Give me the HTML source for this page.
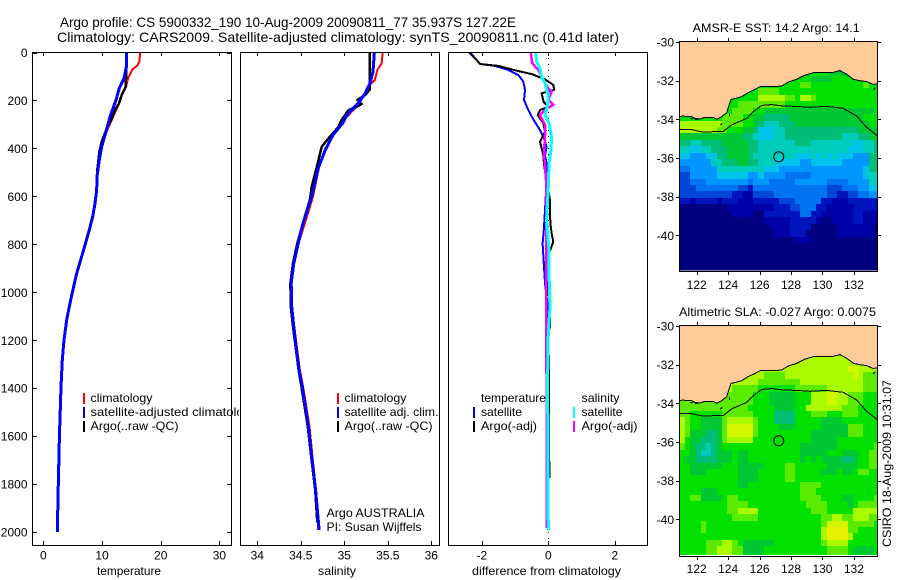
<!DOCTYPE html>
<html>
<head>
<meta charset="utf-8">
<title>Argo profile</title>
<style>
html,body{margin:0;padding:0;background:#fff;}
svg{display:block;font-family:"Liberation Sans",sans-serif;fill:#000;}
text{font-size:12px;}
.frame{fill:none;stroke:#000;stroke-width:1;shape-rendering:crispEdges;}
.crisp{shape-rendering:crispEdges;}
</style>
</head>
<body>
<svg id="figure" xmlns="http://www.w3.org/2000/svg" width="900" height="580" viewBox="0 0 900 580">
  <defs>
    <clipPath id="clip-legend"><rect x="32" y="52" width="207" height="494"/></clipPath>
    <clipPath id="clip-map1"><rect x="679" y="41" width="198" height="229.5"/></clipPath>
    <clipPath id="clip-map2"><rect x="679" y="325" width="198" height="230"/></clipPath>
  </defs>
  <text x="60" y="27" textLength="456" lengthAdjust="spacingAndGlyphs" style="font-size:14px">Argo profile: CS 5900332_190 10-Aug-2009 20090811_77 35.937S 127.22E</text>
  <text x="57" y="42" textLength="562" lengthAdjust="spacingAndGlyphs" style="font-size:14px">Climatology: CARS2009. Satellite-adjusted climatology: synTS_20090811.nc (0.41d later)</text>

  <g id="temp-panel"></g>
  <g id="sal-panel"></g>
  <g id="diff-panel"></g>

  <rect class="frame" x="32.5" y="52.5" width="199" height="493"/>
  <rect class="frame" x="240.5" y="52.5" width="199" height="493"/>
  <rect class="frame" x="448.5" y="52.5" width="199" height="493"/>

  <text x="97" y="575" textLength="64" lengthAdjust="spacingAndGlyphs">temperature</text>
  <text x="318" y="575" textLength="38" lengthAdjust="spacingAndGlyphs">salinity</text>
  <text x="472" y="575" textLength="149" lengthAdjust="spacingAndGlyphs">difference from climatology</text>

  <g clip-path="url(#clip-legend)">
    <rect class="crisp" x="83" y="393" width="2" height="11" fill="#f00"/>
    <rect class="crisp" x="83" y="407" width="2" height="11" fill="#00f"/>
    <rect class="crisp" x="83" y="421" width="2" height="11" fill="#000"/>
    <text x="90.5" y="402" textLength="62" lengthAdjust="spacingAndGlyphs">climatology</text>
    <text x="90.5" y="416" textLength="167" lengthAdjust="spacingAndGlyphs">satellite-adjusted climatology</text>
    <text x="90.5" y="430" textLength="88" lengthAdjust="spacingAndGlyphs">Argo(..raw -QC)</text>
  </g>

  <g>
    <rect class="crisp" x="337" y="393" width="2" height="11" fill="#f00"/>
    <rect class="crisp" x="337" y="407" width="2" height="11" fill="#00f"/>
    <rect class="crisp" x="337" y="421" width="2" height="11" fill="#000"/>
    <text x="344.5" y="402" textLength="62" lengthAdjust="spacingAndGlyphs">climatology</text>
    <text x="344.5" y="416" textLength="94" lengthAdjust="spacingAndGlyphs">satellite adj. clim.</text>
    <text x="344.5" y="430" textLength="88" lengthAdjust="spacingAndGlyphs">Argo(..raw -QC)</text>
    <text x="326.5" y="517" textLength="98" lengthAdjust="spacingAndGlyphs">Argo AUSTRALIA</text>
    <text x="326.5" y="531" textLength="95" lengthAdjust="spacingAndGlyphs">PI: Susan Wijffels</text>
  </g>

  <g>
    <text x="481" y="402" textLength="65" lengthAdjust="spacingAndGlyphs">temperature</text>
    <text x="581.5" y="402" textLength="38" lengthAdjust="spacingAndGlyphs">salinity</text>
    <rect class="crisp" x="473" y="407" width="2" height="11" fill="#00f"/>
    <rect class="crisp" x="473" y="421" width="2" height="11" fill="#000"/>
    <rect class="crisp" x="573" y="407" width="2" height="11" fill="#0ff"/>
    <rect class="crisp" x="573" y="421" width="2" height="11" fill="#f0f"/>
    <text x="481" y="416" textLength="41" lengthAdjust="spacingAndGlyphs">satellite</text>
    <text x="481" y="430" textLength="56" lengthAdjust="spacingAndGlyphs">Argo(-adj)</text>
    <text x="581.5" y="416" textLength="41" lengthAdjust="spacingAndGlyphs">satellite</text>
    <text x="581.5" y="430" textLength="56" lengthAdjust="spacingAndGlyphs">Argo(-adj)</text>
  </g>

  <text x="692.7" y="32" textLength="167" lengthAdjust="spacingAndGlyphs">AMSR-E SST: 14.2 Argo: 14.1</text>
  <g id="sst-map"></g>
  <rect class="frame" x="679.5" y="41.5" width="198" height="230"/>

  <text x="679" y="316" textLength="197" lengthAdjust="spacingAndGlyphs">Altimetric SLA: -0.027 Argo: 0.0075</text>
  <g id="sla-map"></g>
  <rect class="frame" x="679.5" y="325.5" width="198" height="231"/>

  <text transform="translate(891,547) rotate(-90)" textLength="167" lengthAdjust="spacingAndGlyphs">CSIRO 18-Aug-2009 10:31:07</text>
</svg>
<script>
// ---------- profile data ----------
const depthTicks = [0,200,400,600,800,1000,1200,1400,1600,1800,2000];
const tempTicks = [0,10,20,30];
const salTicks = [34,34.5,35,35.5,36];
const diffTicks = [-2,0,2];

const lowerDepth = [573,629,685,740,803,865,921,983,1046,1115,1199,1282,1393,1500,1600,1700,1800,1900,2000];
const lowerTemp = [9.1,8.81,8.41,7.84,7.1,6.37,5.69,5.11,4.55,3.99,3.53,3.24,3.02,2.88,2.75,2.65,2.56,2.47,2.39];

const tempClimDepth = [0,38,55,70,103,143,170,219,268,330,379,448,518];
const tempClimValue = [16.53,16.36,16.0,15.2,14.5,14.1,13.5,12.8,11.9,10.8,9.95,9.6,9.2];
const tempSatDepth = [0,59,108,149,198,268,330,393,448,518];
const tempSatValue = [14.15,14.15,13.75,12.95,12.38,11.36,10.68,9.95,9.54,9.15];
const tempArgoDepth = [0,100,143,177,212,240,274,316,372,414,490];
const tempArgoValue = [14.1,14.1,14.03,13.35,12.9,12.2,11.65,10.8,9.95,9.55,9.2];

const salClimDepth = [2,45,73,115,135,170,226,261,295,358,407,462,601,685,796,879,962,1060,1143,1227,1324,1400,1560,1686,1824,1991];
const salClimValue = [35.44,35.43,35.38,35.35,35.295,35.24,35.14,35.05,34.95,34.855,34.78,34.72,34.64,34.57,34.475,34.425,34.395,34.4,34.425,34.455,34.49,34.53,34.6,34.635,34.675,34.7];
const salSatDepth = [2,80,128,170,212,233,261,295,344,407,483,601,657,719,796,879,962,1060,1143,1227,1324,1400,1560,1686,1824,1991];
const salSatValue = [35.345,35.33,35.295,35.24,35.16,35.1,35.03,34.98,34.87,34.78,34.7,34.625,34.575,34.52,34.47,34.42,34.39,34.395,34.42,34.445,34.48,34.52,34.586,34.625,34.67,34.71];
const salArgoDepth = [2,87,156,177,198,215,230,240,281,312,351,393,469,560,615,691,796,879,962,1060,1143,1227,1324,1400,1560,1686,1824,1960];
const salArgoValue = [35.295,35.29,35.29,35.24,35.15,35.2,35.12,35.05,34.97,34.93,34.835,34.74,34.69,34.625,34.605,34.54,34.46,34.41,34.38,34.385,34.41,34.44,34.475,34.51,34.58,34.62,34.665,34.69];

const diffTempSatDepth = [0,24,48,56,73,94,122,156,198,240,279,323,358,393,430,480,560,657,753,795,894,962,1050,1200,1500,1780];
const diffTempSatValue = [-2.385,-2.2,-2.05,-1.6,-1.2,-0.9,-0.75,-0.7,-0.73,-0.6,-0.45,-0.25,-0.13,-0.05,-0.1,-0.02,-0.06,-0.1,-0.14,-0.17,-0.13,-0.1,-0.02,-0.06,-0.02,0];
const diffTempArgoDepth = [0,24,48,56,76,90,112,135,156,170,205,226,240,261,295,330,372,427,469,531,615,711,753,789,824,879,1060,1143,1170,1310,1775];
const diffTempArgoValue = [-2.35,-2.2,-2.05,-1.5,-0.95,-0.5,-0.1,0.15,0.18,-0.2,-0.14,0,-0.25,-0.32,-0.15,-0.1,-0.25,-0.15,-0.13,-0.05,0.05,0.06,0.1,0.15,0.06,-0.1,0.05,0.05,0,0.02,0.03];
const diffSalSatDepth = [0,38,66,101,128,177,219,261,295,351,407,462,560,699,824,977,1060,1170,1366,1991];
const diffSalSatValue = [-0.38,-0.35,-0.25,-0.2,-0.1,0,-0.02,-0.1,0.02,0.1,0.08,0.02,0,-0.05,0.02,0.03,0.05,0,-0.02,0];
const diffSalArgoDepth = [0,45,73,115,149,163,198,219,233,261,302,344,420,531,685,1000,1500,1983];
const diffSalArgoValue = [-0.53,-0.48,-0.3,-0.15,0,0.1,0,0.15,-0.05,-0.25,-0.1,-0.1,-0.13,-0.07,-0.07,-0.06,-0.05,-0.05];

// ---------- map data ----------
const mapLatTicks = [-30,-32,-34,-36,-38,-40];
const mapLonTicks = [122,124,126,128,130,132];
const gridLatStart = -31.4;
const gridLonStart = 120.93;
const gridStep = 1/3;
const floatLon = 127.22;
const floatLat = -35.937;

const coastLon = [120.9,121.15,121.36,121.68,121.89,122.21,122.53,123.06,123.27,123.59,123.91,124.03,124.18,124.54,124.86,125.18,125.64,126.03,126.66,127.4,127.83,128.36,128.89,129.42,130.26,130.69,131.11,131.53,131.96,132.38,132.81,133.23,133.6];
const coastLat = [-33.86,-33.83,-33.86,-33.86,-33.95,-33.98,-33.9,-33.9,-34,-33.86,-33.66,-33.34,-32.97,-32.9,-32.83,-32.66,-32.48,-32.31,-32.31,-32.28,-32.07,-31.93,-31.71,-31.59,-31.57,-31.57,-31.48,-31.66,-31.93,-32,-32.05,-32.2,-32.14];
const isobathLon = [120.9,121.58,122.42,123.7,124.22,125.18,125.6,126.13,126.77,127.51,128.36,129.2,130.26,131.32,132.17,132.81,133.6];
const isobathLat = [-34.52,-34.52,-34.66,-34.62,-34.29,-33.95,-33.6,-33.28,-33.24,-33.31,-33.33,-33.38,-33.33,-33.43,-33.83,-34.41,-34.93];
const islandStartLon = [133.23,123.5,124.1,121.58];
const islandStartLat = [-32.48,-34.3,-33.7,-33.95];
const islandEndLon = [133.48,123.65,124.1,122.2];
const islandEndLat = [-32.28,-34.17,-33.83,-34.03];

const sstGrid = [
[10,10,10,10,10,10,10,10,10,10,10,10,10,10,10,10,10,10,10,10,10,10,10,10,10,10,10,10,9,9,9,9,9,10,10,10,10,10],
[10,10,10,10,10,10,10,10,10,10,10,10,10,10,10,10,10,10,10,10,10,10,10,10,10,9,9,9,9,10,10,10,10,10,10,10,10,10],
[10,10,10,10,10,10,10,10,10,10,10,10,10,10,10,10,10,10,10,10,10,10,10,11,11,10,10,10,10,10,10,10,10,10,10,11,10,10],
[10,10,10,10,10,10,10,10,10,10,10,10,10,10,10,11,11,11,11,10,10,10,10,10,10,10,10,10,10,10,10,10,10,10,10,10,10,10],
[10,10,10,10,10,10,10,10,10,10,10,10,10,10,10,12,12,12,12,12,11,11,10,12,12,11,10,10,10,10,10,10,10,10,10,10,10,10],
[10,10,10,10,10,10,10,10,10,10,10,11,11,11,11,11,11,11,11,11,10,10,10,10,10,10,10,10,10,10,10,10,10,10,10,10,10,10],
[10,10,10,10,10,10,10,10,10,10,11,11,11,11,10,10,9,9,9,9,9,9,9,9,9,9,9,9,9,9,9,9,9,9,9,9,9,10],
[10,10,10,10,10,10,10,10,11,11,11,11,10,10,9,9,8,8,8,8,8,9,9,9,9,9,9,9,9,9,9,9,9,9,9,10,10,10],
[12,12,12,12,12,12,12,12,11,11,11,11,10,10,9,8,7,7,7,8,8,8,9,9,9,9,9,9,9,9,9,9,9,9,9,9,10,10],
[12,12,12,12,12,12,12,11,11,10,10,10,9,9,8,6,6,6,7,7,8,8,8,8,8,8,8,8,8,8,8,8,8,8,9,9,9,9],
[9,9,9,9,9,9,9,9,9,9,9,9,8,8,7,6,6,6,7,7,8,8,8,8,8,8,8,8,8,8,8,7,7,7,8,8,9,9],
[8,8,7,7,8,8,8,8,9,9,9,9,9,8,8,7,7,7,7,7,7,7,8,8,8,7,7,7,7,7,7,7,7,6,6,7,7,8],
[7,7,6,6,7,7,8,8,8,9,9,9,9,8,8,7,7,7,7,7,7,7,7,7,7,7,7,7,7,7,7,7,6,6,6,7,7,8],
[6,6,5,5,5,6,6,8,8,9,9,9,9,8,7,7,7,7,7,7,7,7,6,6,6,7,6,7,6,7,6,6,6,5,5,5,8,8],
[5,5,5,5,5,5,7,7,8,8,8,9,9,8,8,7,7,7,6,6,6,6,6,5,5,6,6,6,6,6,6,5,5,5,5,5,8,8],
[4,4,5,5,5,5,5,7,7,7,7,7,7,7,7,7,6,6,6,5,5,5,5,5,5,5,5,5,5,5,5,5,5,5,5,6,8,8],
[3,3,5,5,5,5,5,6,6,6,6,6,6,5,5,6,5,5,5,5,4,4,4,4,4,5,5,5,5,5,5,5,5,5,5,6,7,7],
[3,3,4,4,4,5,5,5,5,5,5,5,5,4,5,5,5,4,4,4,4,4,5,5,5,5,5,5,4,4,4,4,5,5,5,5,7,7],
[3,3,3,4,4,4,4,4,4,4,4,3,3,2,4,4,4,4,4,4,4,4,4,4,4,4,4,4,3,3,3,4,4,4,5,5,6,6],
[3,3,3,3,3,3,3,3,3,3,2,2,1,1,3,3,3,3,4,4,4,4,4,4,4,4,4,4,3,3,2,2,3,3,4,4,5,5],
[2,2,1,2,2,2,2,1,2,2,2,1,1,1,2,2,2,2,2,3,3,3,4,4,4,4,4,2,2,1,1,1,2,2,2,2,2,2],
[0,0,0,0,0,0,0,0,0,1,1,1,1,1,1,1,1,1,2,2,2,3,3,4,4,4,2,2,1,1,1,1,1,2,2,2,2,2],
[0,0,0,0,0,0,0,0,0,0,1,1,1,1,0,0,2,2,2,2,2,2,2,4,4,2,2,1,1,1,1,1,1,2,2,1,1,1],
[0,0,0,0,0,0,0,0,0,0,0,0,0,0,0,0,1,1,1,1,1,2,2,2,2,2,1,0,0,1,1,1,1,2,2,1,1,1],
[0,0,0,0,0,0,0,0,0,0,0,0,0,0,0,0,0,1,1,1,1,2,2,2,2,0,0,0,0,0,1,1,1,1,1,1,1,0],
[0,0,0,0,0,0,0,0,0,0,0,0,0,0,0,0,0,0,1,1,1,2,2,2,0,0,0,0,0,0,1,1,1,1,1,1,1,0],
[0,0,0,0,0,0,0,0,0,0,0,0,0,0,0,0,0,0,0,0,0,0,1,1,1,0,0,0,0,0,0,0,0,0,0,0,0,0],
[0,0,0,0,0,0,0,0,0,0,0,0,0,0,0,0,0,0,0,0,0,0,0,0,0,0,0,0,0,0,0,0,0,0,0,0,0,0],
[0,0,0,0,0,0,0,0,0,0,0,0,0,0,0,0,0,0,0,0,0,0,0,0,0,0,0,0,0,0,0,0,0,0,0,0,0,0],
[0,0,0,0,0,0,0,0,0,0,0,0,0,0,0,0,0,0,0,0,0,0,0,0,0,0,0,0,0,0,0,0,0,0,0,0,0,0],
[0,0,0,0,0,0,0,0,0,0,0,0,0,0,0,0,0,0,0,0,0,0,0,0,0,0,0,0,0,0,0,0,0,0,0,0,0,0],
[0,0,0,0,0,0,0,0,0,0,0,0,0,0,0,0,0,0,0,0,0,0,0,0,0,0,0,0,0,0,0,0,0,0,0,0,0,0]
];

const slaGrid = [
[12,12,12,12,12,12,12,12,12,12,12,12,12,12,12,12,12,12,12,12,12,12,12,12,12,12,12,12,12,12,12,12,12,12,12,12,12,12],
[12,12,12,12,12,12,12,12,12,12,12,12,12,12,12,12,12,12,12,12,12,12,12,12,12,12,12,12,12,12,12,12,12,12,12,12,12,12],
[12,12,12,12,12,12,12,12,12,12,12,12,12,12,12,12,12,12,12,12,12,12,12,12,12,12,12,12,12,12,12,12,13,13,12,12,12,12],
[12,12,12,12,12,12,12,12,12,12,11,11,11,12,12,12,11,11,11,11,12,12,12,12,12,12,12,12,12,12,12,12,12,13,12,11,11,11],
[12,12,12,12,12,12,12,12,12,12,12,12,12,12,12,11,11,11,11,11,11,11,11,12,12,12,12,12,12,12,12,12,12,12,12,11,11,11],
[12,12,12,12,12,12,12,12,12,12,11,11,11,11,11,10,10,10,10,10,10,10,11,11,11,11,11,11,12,12,12,12,12,12,12,11,11,11],
[11,11,11,11,11,11,11,11,11,11,11,11,11,11,10,10,10,9,9,9,9,9,10,10,10,12,12,12,13,13,12,12,11,11,11,10,10,10],
[11,11,11,11,11,11,11,11,11,11,11,11,11,11,10,10,10,9,9,9,9,9,10,10,10,12,12,12,13,13,12,12,11,11,11,10,10,10],
[11,11,11,11,11,11,11,11,11,11,11,11,11,10,10,10,10,10,9,9,9,9,10,10,12,12,12,12,12,12,12,11,11,11,10,10,10,10],
[11,11,10,10,10,10,10,10,11,11,11,11,11,11,10,10,10,10,8,8,8,8,10,10,10,11,11,11,10,10,10,11,11,11,10,10,10,10],
[12,11,10,10,9,9,9,9,11,12,12,12,12,12,11,10,10,10,8,8,8,8,10,10,10,10,10,9,9,9,9,10,10,10,10,10,10,10],
[12,11,10,10,9,9,9,9,11,13,13,13,13,13,11,10,10,10,10,9,9,9,10,10,10,10,10,9,9,9,9,9,11,11,11,10,10,10],
[12,11,9,9,9,8,8,9,11,13,13,13,13,13,11,10,10,10,10,10,10,10,10,10,10,9,9,9,9,9,9,9,11,11,11,10,10,10],
[12,10,9,9,8,8,8,9,11,12,12,12,12,12,10,10,10,10,10,10,10,10,10,10,10,9,9,9,9,9,10,10,10,10,10,10,10,10],
[11,10,9,8,8,7,8,9,10,10,10,10,10,10,10,10,10,10,10,10,10,10,10,9,9,9,9,9,9,9,10,10,10,10,10,10,10,11],
[10,10,9,8,7,7,8,9,9,9,10,9,9,10,10,10,10,10,10,10,10,10,10,9,9,9,9,9,10,10,10,9,9,9,10,10,11,11],
[10,9,9,8,8,8,8,9,9,9,10,9,9,10,10,10,10,10,10,10,10,10,10,9,10,9,10,9,9,9,9,8,8,9,10,10,11,11],
[10,10,9,9,9,9,9,9,10,10,10,9,9,9,9,9,10,10,10,10,11,11,10,10,10,10,10,10,9,9,9,9,9,9,10,10,11,11],
[10,10,9,9,9,10,10,10,10,10,10,9,9,9,9,10,10,10,10,10,11,11,10,10,10,10,10,9,9,9,10,9,9,10,11,11,10,10],
[10,10,10,10,10,10,10,10,10,10,10,9,9,9,9,10,10,10,10,10,11,11,10,10,10,10,10,10,10,10,10,10,10,10,10,10,10,10],
[10,10,10,10,10,10,10,10,10,10,10,9,9,10,10,10,10,10,10,10,10,10,10,11,11,11,11,10,10,10,10,10,10,10,10,10,10,10],
[10,10,10,10,9,9,9,10,10,10,10,10,10,10,10,10,10,10,10,10,10,10,10,11,11,11,10,10,10,10,10,10,10,10,10,10,10,10],
[10,10,11,11,9,9,9,9,10,11,11,10,10,10,10,10,10,10,10,10,10,10,10,11,11,11,11,10,10,10,10,9,9,10,10,10,10,11],
[10,10,10,10,10,10,10,10,10,11,11,11,11,10,10,10,10,10,10,10,10,10,10,10,11,11,11,11,10,10,10,10,9,10,11,11,11,11],
[10,10,10,10,10,10,10,10,10,11,11,12,12,12,12,10,10,10,10,10,10,10,10,10,10,11,11,11,10,10,10,10,10,12,12,12,12,12],
[10,10,10,10,10,10,10,10,10,10,11,11,11,11,11,10,10,10,10,10,10,10,10,10,10,10,10,11,11,12,12,11,11,12,12,12,11,11],
[10,10,10,10,11,10,10,10,10,10,10,10,10,10,10,10,10,10,10,10,10,10,10,10,10,10,10,11,13,13,13,13,11,11,11,11,11,10],
[10,10,10,10,11,10,10,10,10,10,10,10,10,10,10,10,10,10,10,10,10,10,10,10,10,10,10,12,14,14,14,14,11,11,10,10,10,10],
[10,10,10,10,10,10,10,10,10,10,10,10,10,10,10,10,10,10,10,10,10,10,10,10,10,10,10,12,14,14,14,14,12,10,10,10,10,10],
[10,10,10,10,10,11,11,11,12,12,11,10,9,9,9,9,9,9,10,10,10,10,10,10,10,10,10,11,12,12,12,12,10,10,10,10,10,10],
[10,10,10,10,10,11,11,12,12,12,11,11,9,9,9,9,10,10,10,10,10,10,10,10,10,10,10,10,11,11,11,11,10,9,9,9,9,10],
[10,10,10,10,10,11,11,12,12,12,11,11,9,9,9,9,10,10,10,10,10,10,10,10,10,10,10,10,11,11,11,11,10,9,9,9,9,10]
];

// ---------- axis functions ----------
function depthY(d){return 52.5 + d*0.2398;}
function tempX(t){return 43.3 + t*5.87;}
function salX(s){return 257.3 + (s-34)*87;}
function diffX(v){return 548.3 + v*33.25;}
function lonX(lon){return 696.7 + (lon-122)*15.72;}
function latY(top,lat){return top + (-30-lat)*19.33;}
function levelColor(level){
  var colors = ['#000080','#0000a8','#0014be','#0046d7','#0073f0','#0096ff','#00c3eb','#00cdb9','#00be78','#00c832','#00e100','#5aeb00','#aafa00','#d2f500','#e6f000'];
  return colors[Math.max(0,Math.min(colors.length-1,Math.round(level)))];
}

var NS = 'http://www.w3.org/2000/svg';
function make(parent,tag,attrs,text){
  var e = document.createElementNS(NS,tag);
  for (var k in attrs) e.setAttribute(k,attrs[k]);
  if (text !== undefined) e.textContent = text;
  parent.appendChild(e);
  return e;
}
function drawLine(parent,name,xs,ys,xFn,color,width){
  var pts = xs.map(function(v,i){return xFn(v).toFixed(1)+','+depthY(ys[i]).toFixed(1);}).join(' ');
  var line = make(parent,'polyline',{points:pts,fill:'none',stroke:color,'stroke-width':width,'shape-rendering':'crispEdges','stroke-linejoin':'round'});
  
  
}
function drawXTicks(parent,ticks,xFn){
  ticks.forEach(function(t){
    var x = Math.round(xFn(t))+0.5;
    var top = make(parent,'line',{x1:x,x2:x,y1:52,y2:56,stroke:'#000','shape-rendering':'crispEdges'});
    
    
    var bot = make(parent,'line',{x1:x,x2:x,y1:541,y2:545,stroke:'#000','shape-rendering':'crispEdges'});
    
    
    var label = make(parent,'text',{x:xFn(t),y:559.5,'text-anchor':'middle'},String(t));
    
    
  });
}

// ---------- temperature panel ----------
var tempPanel = document.getElementById('temp-panel');
drawXTicks(tempPanel,tempTicks,tempX);
depthTicks.forEach(function(d){
  var y = Math.round(depthY(d))+0.5;
  var a = make(tempPanel,'line',{x1:32,x2:37,y1:y,y2:y,stroke:'#000','shape-rendering':'crispEdges'});
  
  
  var b = make(tempPanel,'line',{x1:227,x2:231,y1:y,y2:y,stroke:'#000','shape-rendering':'crispEdges'});
  
  
  var t = make(tempPanel,'text',{x:27.5,y:depthY(d)+4.5,'text-anchor':'end'},String(d));
  
  
});
drawLine(tempPanel,'temperature-climatology-line',tempClimValue.concat(lowerTemp.map(function(v){return v+0.05;})),tempClimDepth.concat(lowerDepth),tempX,'#f00',2);
drawLine(tempPanel,'temperature-argo-line',tempArgoValue.concat(lowerTemp.map(function(v){return v-0.04;})),tempArgoDepth.concat(lowerDepth),tempX,'#000',2.5);
drawLine(tempPanel,'temperature-satellite-line',tempSatValue.concat(lowerTemp),tempSatDepth.concat(lowerDepth),tempX,'#00f',3);

// ---------- salinity panel ----------
var salPanel = document.getElementById('sal-panel');
drawXTicks(salPanel,salTicks,salX);
drawLine(salPanel,'salinity-climatology-line',salClimValue,salClimDepth,salX,'#f00',2);
drawLine(salPanel,'salinity-argo-line',salArgoValue,salArgoDepth,salX,'#000',2.5);
drawLine(salPanel,'salinity-satellite-line',salSatValue,salSatDepth,salX,'#00f',3);

// ---------- difference panel ----------
var diffPanel = document.getElementById('diff-panel');
drawXTicks(diffPanel,diffTicks,diffX);
var zeroLine = make(diffPanel,'line',{x1:diffX(0),x2:diffX(0),y1:52,y2:540,stroke:'#000','stroke-dasharray':'1 5','shape-rendering':'crispEdges'});


drawLine(diffPanel,'temperature-satellite-difference-line',diffTempSatValue,diffTempSatDepth,diffX,'#00f',2);
drawLine(diffPanel,'temperature-argo-difference-line',diffTempArgoValue,diffTempArgoDepth,diffX,'#000',2);
drawLine(diffPanel,'salinity-argo-difference-line',diffSalArgoValue,diffSalArgoDepth,diffX,'#f0f',2.5);
drawLine(diffPanel,'salinity-satellite-difference-line',diffSalSatValue,diffSalSatDepth,diffX,'#0ff',3);

// ---------- maps ----------
function drawMap(groupId,prefix,grid,top,frameTop,frameBottom,labelBaseline,clipId){
  var g = document.getElementById(groupId);
  var clip = make(g,'g',{'clip-path':'url(#'+clipId+')'});
  
  
  grid.forEach(function(row,r){
    row.forEach(function(value,c){
      var lon = gridLonStart + c*gridStep;
      var lat = gridLatStart - r*gridStep;
      var x0 = Math.round(lonX(lon));
      var x1 = Math.round(lonX(lon+gridStep));
      var y0 = Math.round(latY(top,lat));
      var y1 = Math.round(latY(top,lat-gridStep));
      var cell = make(clip,'rect',{x:x0,y:y0,width:x1-x0,height:y1-y0,fill:levelColor(value),'shape-rendering':'crispEdges'});
      
      
    });
  });
  var landPts = coastLon.map(function(lon,i){return lonX(lon).toFixed(1)+','+latY(top,coastLat[i]).toFixed(1);});
  landPts.push(lonX(133.6).toFixed(1)+','+latY(top,-29.9).toFixed(1));
  landPts.push(lonX(120.9).toFixed(1)+','+latY(top,-29.9).toFixed(1));
  var land = make(clip,'polygon',{points:landPts.join(' '),fill:'#ffcc99',stroke:'none'});
  
  
  var coast = make(clip,'polyline',{points:coastLon.map(function(lon,i){return lonX(lon).toFixed(1)+','+latY(top,coastLat[i]).toFixed(1);}).join(' '),fill:'none',stroke:'#000','stroke-width':1,'shape-rendering':'crispEdges'});
  
  
  islandStartLon.forEach(function(lon,i){
    var seg = make(clip,'line',{x1:lonX(lon),y1:latY(top,islandStartLat[i]),x2:lonX(islandEndLon[i]),y2:latY(top,islandEndLat[i]),stroke:'#000','stroke-width':1,'stroke-dasharray':'3 2','shape-rendering':'crispEdges'});
    
    
  });
  var iso = make(clip,'polyline',{points:isobathLon.map(function(lon,i){return lonX(lon).toFixed(1)+','+latY(top,isobathLat[i]).toFixed(1);}).join(' '),fill:'none',stroke:'#000','stroke-width':1,'shape-rendering':'crispEdges'});
  
  
  var marker = make(clip,'circle',{cx:lonX(floatLon),cy:latY(top,floatLat),r:5,fill:'none',stroke:'#000','stroke-width':1});
  
  
  mapLatTicks.forEach(function(lat){
    var y = Math.round(latY(top,lat))+0.5;
    var l = make(g,'line',{x1:676,x2:679,y1:y,y2:y,stroke:'#000','shape-rendering':'crispEdges'});
    
    
    var rr = make(g,'line',{x1:878,x2:881,y1:y,y2:y,stroke:'#000','shape-rendering':'crispEdges'});
    
    
    var t = make(g,'text',{x:674,y:latY(top,lat)+4.5,'text-anchor':'end'},String(lat));
    
    
  });
  mapLonTicks.forEach(function(lon){
    var x = Math.round(lonX(lon))+0.5;
    var a = make(g,'line',{x1:x,x2:x,y1:frameTop-3,y2:frameTop,stroke:'#000','shape-rendering':'crispEdges'});
    
    
    var b = make(g,'line',{x1:x,x2:x,y1:frameBottom,y2:frameBottom+3,stroke:'#000','shape-rendering':'crispEdges'});
    
    
    var t = make(g,'text',{x:lonX(lon),y:labelBaseline,'text-anchor':'middle'},String(lon));
    
    
  });
}
drawMap('sst-map','sst',sstGrid,42,41,272,289,'clip-map1');
drawMap('sla-map','sla',slaGrid,326,325,557,573,'clip-map2');
</script>
</body>
</html>
